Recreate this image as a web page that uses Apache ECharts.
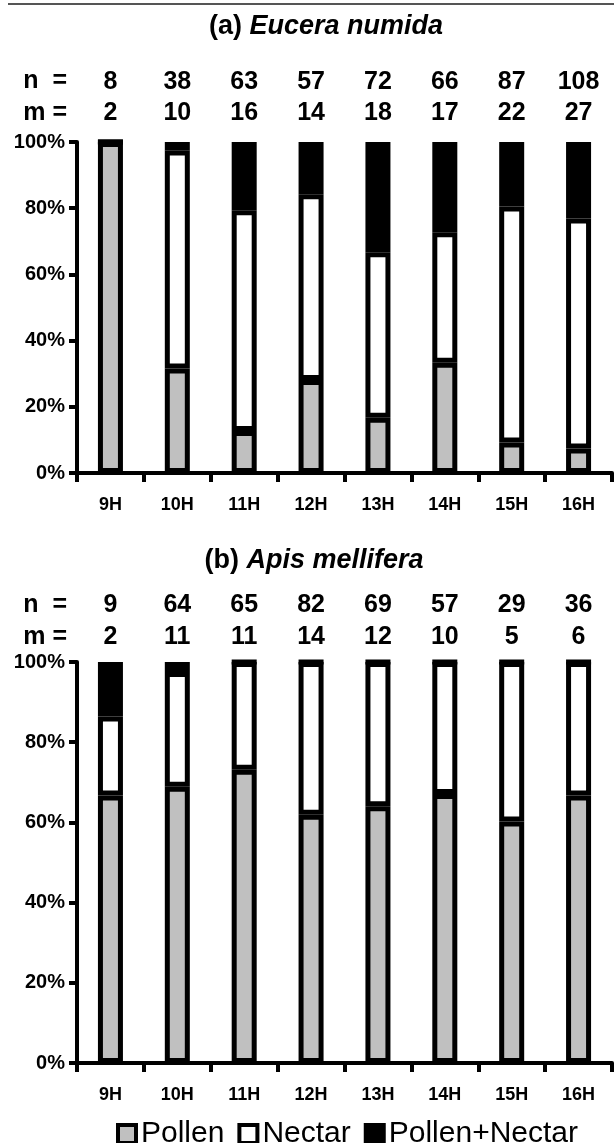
<!DOCTYPE html>
<html><head><meta charset="utf-8">
<script src="https://cdn.jsdelivr.net/npm/echarts@6/dist/echarts.min.js"></script>
<style>html,body{margin:0;padding:0;background:#fff}#c{width:614px;height:1143px}</style>
</head><body><div id="c"></div>
<script>
const hours = ['9H','10H','11H','12H','13H','14H','15H','16H'];
const yTicks = ['0%','20%','40%','60%','80%','100%'];
// (a) Eucera numida
const nA = [8,38,63,57,72,66,87,108];
const mA = [2,10,16,14,18,17,22,27];
const pollenA = [100,31.6,12.7,28.1,16.7,33.3,9.2,7.4];
const nectarA = [0,65.8,66.7,56.1,50.0,39.4,71.3,69.5];
const bothA   = [0,2.6,20.6,15.8,33.3,27.3,19.5,23.1];
// (b) Apis mellifera
const nB = [9,64,65,82,69,57,29,36];
const mB = [2,11,11,14,12,10,5,6];
const pollenB = [66.7,68.9,73.1,61.9,64.0,67.1,60.2,66.7];
const nectarB = [19.7,28.6,26.9,38.1,36.0,32.9,39.8,33.3];
const bothB   = [13.6,2.5,0,0,0,0,0,0];

const FONT = "'Liberation Sans', Arial, Helvetica, sans-serif";
const grids = [
  {left:77, right:2, top:142, height:331},
  {left:77, right:2, top:662, height:401}
];
function yAxis(gi){
  return {type:'value', gridIndex:gi, min:0, max:100, interval:20,
    axisLine:{show:true, lineStyle:{color:'#000', width:4}},
    axisTick:{show:true, length:8, lineStyle:{color:'#000', width:4}},
    splitLine:{show:false},
    axisLabel:{formatter:v=>yTicks[Math.round(v/20)], color:'#000', fontFamily:FONT, fontWeight:'bold', fontSize:20, margin:12}
  };
}
function xMain(gi){
  return {type:'category', gridIndex:gi, data:hours, position:'bottom',
    axisLine:{lineStyle:{color:'#000', width:4}},
    axisTick:{show:true, length:9, alignWithLabel:false, lineStyle:{color:'#000', width:4}},
    axisLabel:{color:'#000', fontFamily:FONT, fontWeight:'bold', fontSize:18, margin:32, verticalAlign:'middle'}
  };
}
function xTop(gi, data, margin){
  return {type:'category', gridIndex:gi, data:data, position:'top',
    axisLine:{show:false}, axisTick:{show:false},
    axisLabel:{color:'#000', fontFamily:FONT, fontWeight:'bold', fontSize:25, margin:margin, verticalAlign:'middle'}
  };
}
const colors = {Pollen:'#c0c0c0', Nectar:'#ffffff', 'Pollen+Nectar':'#000000'};
function bar(name, data, xi, yi, stack){
  return {type:'bar', name:name, data:data, xAxisIndex:xi, yAxisIndex:yi, stack:stack,
    barWidth:25, silent:true,
    itemStyle:{color:colors[name], borderColor:'#000', borderWidth:5}};
}
const titleRich = {n:{fontFamily:FONT, fontWeight:'bold', fontSize:27, fill:'#000'},
                   i:{fontFamily:FONT, fontWeight:'bold', fontStyle:'italic', fontSize:27, fill:'#000'}};
const option = {
  animation:false,
  grid:grids,
  xAxis:[xMain(0), xTop(0,nA,60), xTop(0,mA,29), xMain(1), xTop(1,nB,57), xTop(1,mB,25)],
  yAxis:[yAxis(0), yAxis(1)],
  legend:{data:['Pollen','Nectar','Pollen+Nectar'], left:111, top:1114, itemWidth:18, itemHeight:18, itemGap:13,
    itemStyle:{borderColor:'#000', borderWidth:4},
    textStyle:{fontFamily:FONT, fontSize:30, color:'#000'}, icon:'rect', selectedMode:false},
  series:[
    bar('Pollen', pollenA, 0, 0, 'a'),
    bar('Nectar', nectarA, 0, 0, 'a'),
    bar('Pollen+Nectar', bothA, 0, 0, 'a'),
    bar('Pollen', pollenB, 3, 1, 'b'),
    bar('Nectar', nectarB, 3, 1, 'b'),
    bar('Pollen+Nectar', bothB, 3, 1, 'b')
  ],
  graphic:[
    {type:'line', shape:{x1:8, y1:4, x2:614, y2:4}, style:{stroke:'#555', lineWidth:2}},
    {type:'text', x:326, y:27, style:{text:'{n|(a) }{i|Eucera numida}', align:'center', verticalAlign:'middle', rich:titleRich}},
    {type:'text', x:314, y:561, style:{text:'{n|(b) }{i|Apis mellifera}', align:'center', verticalAlign:'middle', rich:titleRich}},
    {type:'text', x:67, y:81, style:{text:'n  =', align:'right', verticalAlign:'middle', font:'bold 25px '+FONT, fill:'#000'}},
    {type:'text', x:67, y:113, style:{text:'m =', align:'right', verticalAlign:'middle', font:'bold 25px '+FONT, fill:'#000'}},
    {type:'text', x:67, y:605, style:{text:'n  =', align:'right', verticalAlign:'middle', font:'bold 25px '+FONT, fill:'#000'}},
    {type:'text', x:67, y:637, style:{text:'m =', align:'right', verticalAlign:'middle', font:'bold 25px '+FONT, fill:'#000'}}
  ]
};
const chart = echarts.init(document.getElementById('c'), null, {renderer:'canvas'});
chart.setOption(option);
</script></body></html>
